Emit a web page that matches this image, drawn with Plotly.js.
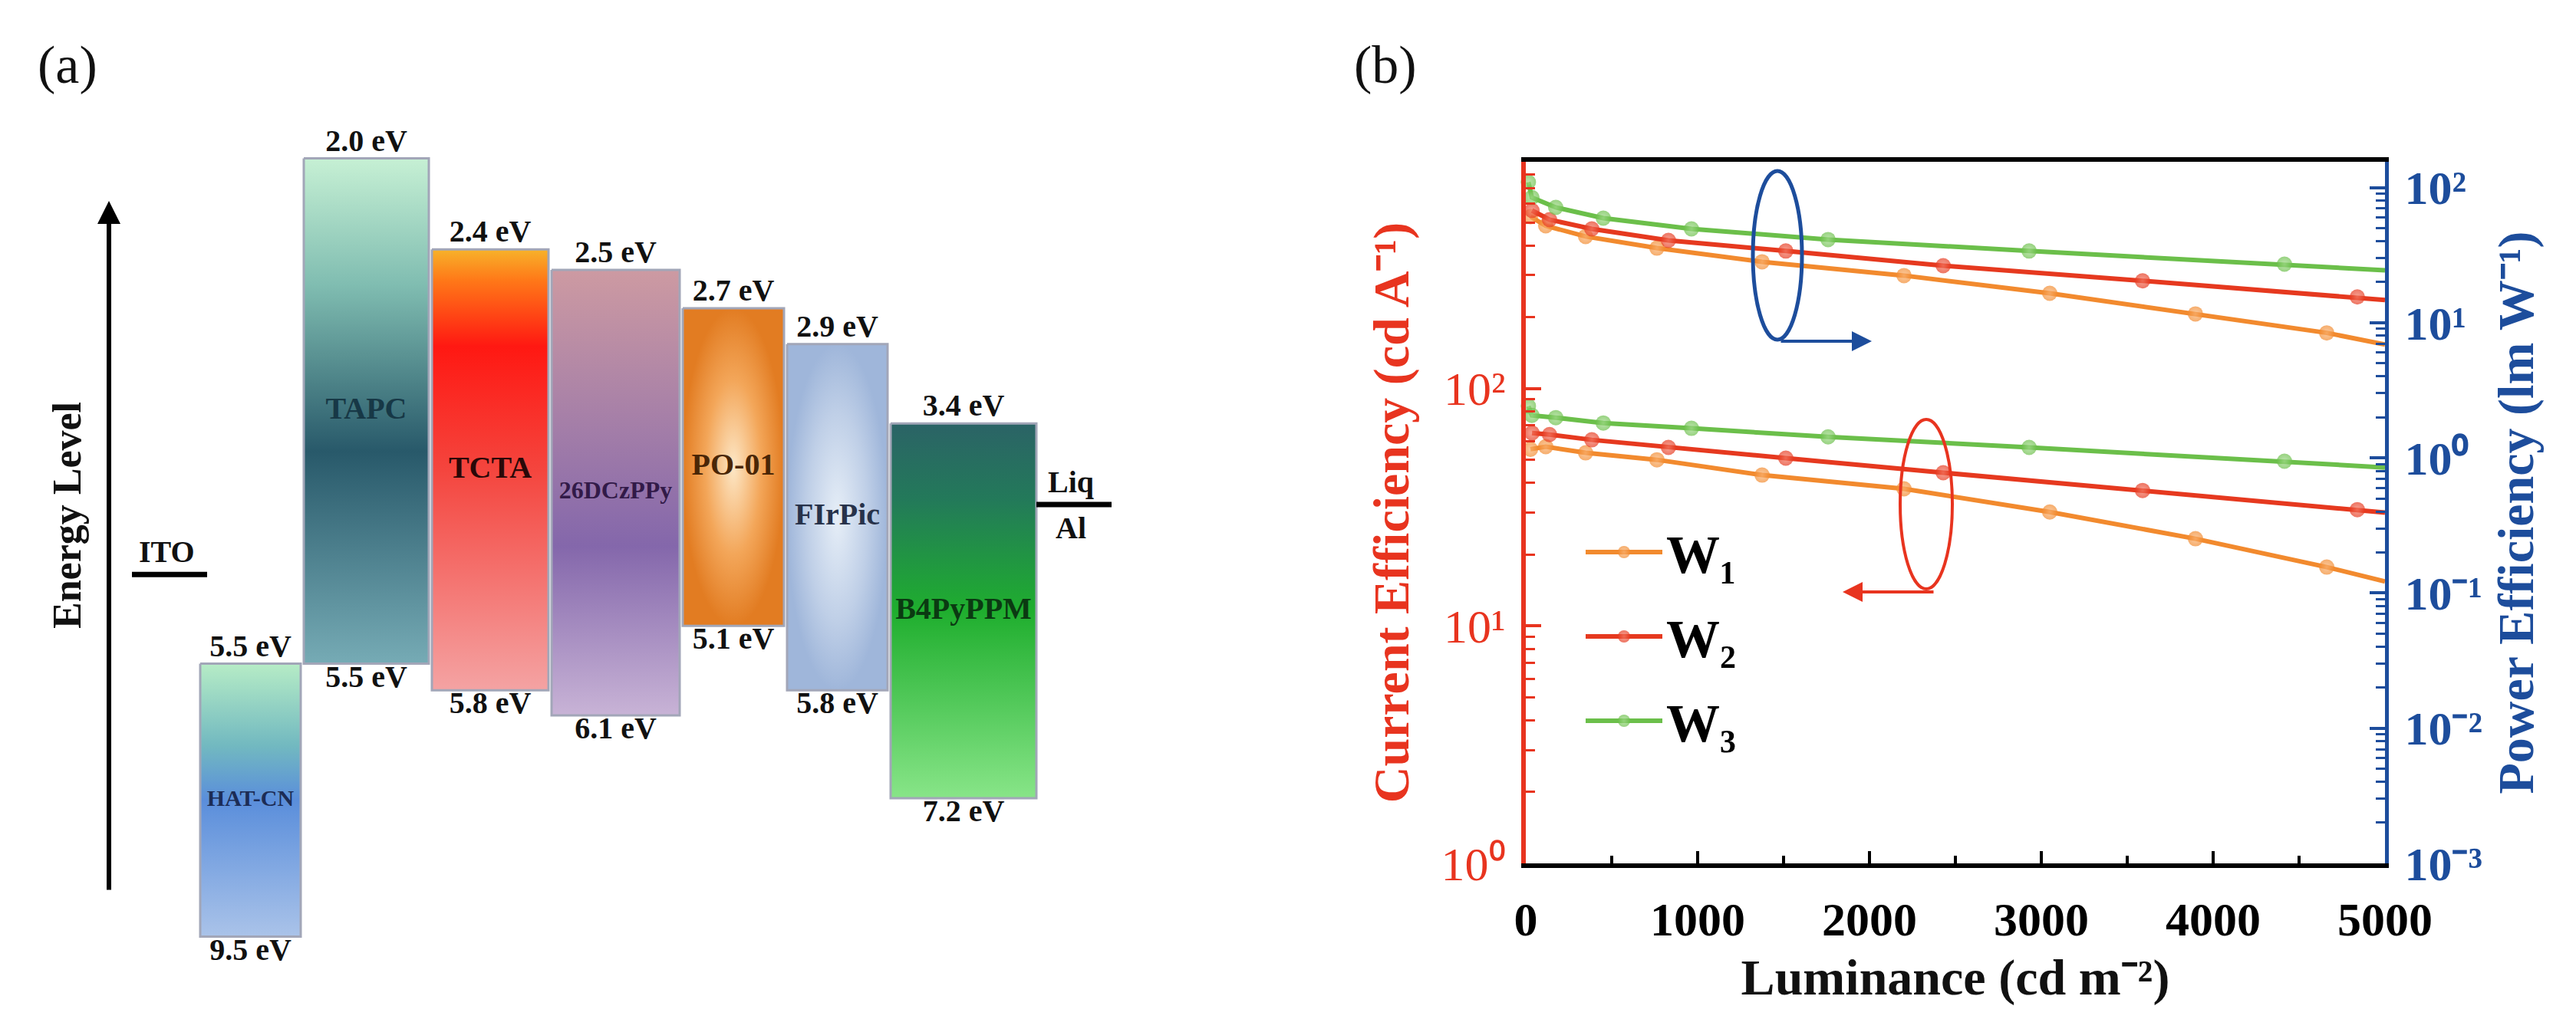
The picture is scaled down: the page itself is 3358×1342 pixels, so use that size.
<!DOCTYPE html>
<html><head><meta charset="utf-8">
<script src="https://cdn.plot.ly/plotly-3.0.1.min.js"></script>
<style>html,body{margin:0;padding:0;background:#fff}</style>
</head><body><div id="chart" style="width:3358px;height:1342px"></div>
<script>
// ---------- Panel (a): energy-level diagram data ----------
const layers = ['HAT-CN', 'TAPC', 'TCTA', '26DCzPPy', 'PO-01', 'FIrPic', 'B4PyPPM'];
const lumo = [5.5, 2.0, 2.4, 2.5, 2.7, 2.9, 3.4];   // upper level label (eV)
const homo = [9.5, 5.5, 5.8, 6.1, 5.1, 5.8, 7.2];   // lower level label (eV)
const electrodeNames = ['ITO', 'Liq/Al'];
const electrodeLevels = [4.6, 4.0];                // schematic position (estimated, eV)

// ---------- Panel (b): efficiency vs luminance data ----------
const seriesNames = ['W₁', 'W₂', 'W₃'];
const lumW1 = [27, 116, 348, 763, 1375, 2201, 3049, 3897, 4661, 5000];
const ceW1  = [55.5, 56.9, 53.6, 50.1, 43.2, 37.8, 30.2, 23.3, 17.7, 15.4];
const peW1  = [60.9, 52.1, 43.4, 35.6, 28.2, 22.3, 16.5, 11.6, 8.4, 6.9];
const lumW2 = [36, 138, 384, 830, 1513, 2429, 3589, 4839, 5000];
const ceW2  = [65.0, 64.0, 60.8, 56.5, 50.9, 44.2, 37.2, 30.9, 30.0];
const peW2  = [67.6, 57.8, 49.4, 40.6, 33.9, 26.4, 20.4, 15.5, 14.7];
const lumW3 = [15, 35, 174, 451, 964, 1759, 2929, 4415, 5000];
const ceW3  = [84.3, 77.1, 75.4, 71.6, 68.0, 62.6, 56.5, 49.4, 46.5];
const peW3  = [109.6, 84.4, 71.2, 59.3, 49.4, 41.2, 33.9, 27.1, 24.4];
const ceTickVals = [1, 10, 100];
const ceTickText = ['10⁰', '10¹', '10²'];
const peTickVals = [0.001, 0.01, 0.1, 1, 10, 100];
const peTickText = ['10⁻³', '10⁻²', '10⁻¹', '10⁰', '10¹', '10²'];

// ---------- styles / layout constants ----------
const W = 3358, H = 1342;
const SERIF = 'Liberation Serif, Times New Roman, serif';
const diagram = { startX: 261, gap: 4, widths: [131, 163, 152, 167, 132, 131, 190], elecLen: 98 };
// vertical colour stops are written top -> bottom
const boxStyles = [
  { type: 'vertical', cs: [[0, '#b6ecc6'], [0.3, '#72b9c0'], [0.5, '#5a8edb'], [1, '#aac3e9']], txt: '#1c2c55', size: 30 },
  { type: 'vertical', cs: [[0, '#c6f0d4'], [0.25, '#80bdb1'], [0.58, '#28596a'], [1, '#76abb5']], txt: '#173846', size: 40 },
  { type: 'vertical', cs: [[0, '#f7b22a'], [0.07, '#ff7818'], [0.22, '#ff1812'], [0.5, '#f4453e'], [1, '#f4a3a3']], txt: '#2a0808', size: 40 },
  { type: 'vertical', cs: [[0, '#cd9aa2'], [0.35, '#a47ea8'], [0.62, '#8467ab'], [1, '#c8b3d6']], txt: '#321a48', size: 32 },
  { type: 'radial', cs: [[0, '#fde7c6'], [0.55, '#f3a659'], [1, '#e27c22']], txt: '#4a2606', size: 40 },
  { type: 'radial', cs: [[0, '#e6eef7'], [0.6, '#bfcfe7'], [1, '#9fb6da']], txt: '#27324a', size: 40 },
  { type: 'vertical', cs: [[0, '#2b6366'], [0.2, '#23795a'], [0.5, '#1fae2e'], [1, '#88e588']], txt: '#0b3a12', size: 40 }
];
const seriesColors = ['#f28a2e', '#e6391f', '#6bbf4a'];
const markerHi = ['#f9b477', '#f27d68', '#a4db8e'];
const RED = '#e8341f', BLUE = '#1d4d9c';
const LABEL_FONT = { family: SERIF, weight: 'bold', size: 40, color: '#111' };

const traces = [];
const annotations = [];

// ---- panel (a) boxes ----
let cur = diagram.startX;
const xEdges = diagram.widths.map(w => { const e = [cur, cur + w]; cur += w + diagram.gap; return e; });
const xCent = xEdges.map(e => (e[0] + e[1]) / 2);
layers.forEach((name, i) => {
  const [x0, x1] = xEdges[i];
  const st = boxStyles[i];
  const cs = st.type === 'vertical' ? st.cs.map(([p, c]) => [1 - p, c]).reverse() : st.cs;
  traces.push({
    x: [x0, x1, x1, x0, x0], y: [lumo[i], lumo[i], homo[i], homo[i], lumo[i]],
    xaxis: 'x2', yaxis: 'y3', mode: 'lines', fill: 'toself',
    fillgradient: { type: st.type, colorscale: cs },
    line: { color: '#a2a6b8', width: 3 }, showlegend: false, hoverinfo: 'skip'
  });
});
// layer names
traces.push({
  x: xCent, y: layers.map((_, i) => Math.sqrt(lumo[i] * homo[i])), text: layers,
  xaxis: 'x2', yaxis: 'y3', mode: 'text', textposition: 'middle center',
  textfont: { family: SERIF, weight: 'bold', size: boxStyles.map(s => s.size), color: boxStyles.map(s => s.txt) },
  showlegend: false, hoverinfo: 'skip'
});
// level labels
traces.push({
  x: xCent, y: lumo, text: lumo.map(v => v.toFixed(1) + ' eV'),
  xaxis: 'x2', yaxis: 'y3', mode: 'text', textposition: 'top center',
  textfont: LABEL_FONT, showlegend: false, hoverinfo: 'skip'
});
traces.push({
  x: xCent, y: homo, text: homo.map(v => v.toFixed(1) + ' eV'),
  xaxis: 'x2', yaxis: 'y3', mode: 'text', textposition: 'bottom center',
  textfont: LABEL_FONT, showlegend: false, hoverinfo: 'skip'
});
// electrodes
const elecX = [
  [diagram.startX - diagram.elecLen + 9, diagram.startX + 9],
  [xEdges[xEdges.length - 1][1], xEdges[xEdges.length - 1][1] + diagram.elecLen]
];
electrodeNames.forEach((name, i) => {
  traces.push({
    x: elecX[i], y: [electrodeLevels[i], electrodeLevels[i]], xaxis: 'x2', yaxis: 'y3',
    mode: 'lines', line: { color: '#000', width: 7 }, showlegend: false, hoverinfo: 'skip'
  });
  const parts = name.split('/');
  const xc = (elecX[i][0] + elecX[i][1]) / 2 - 4;
  annotations.push({ text: parts[0], xref: 'x2', yref: 'y3', x: xc, y: Math.log10(electrodeLevels[i]),
    yshift: 30, showarrow: false, font: LABEL_FONT });
  if (parts[1]) annotations.push({ text: parts[1], xref: 'x2', yref: 'y3', x: xc, y: Math.log10(electrodeLevels[i]),
    yshift: -30, showarrow: false, font: LABEL_FONT });
});

// ---- panel (b) series ----
const lums = [lumW1, lumW2, lumW3], ces = [ceW1, ceW2, ceW3], pes = [peW1, peW2, peW3];
[0, 1, 2].forEach(i => {
  // last point = where the curve meets the right axis (no marker there)
  const sizes = lums[i].map((v, k) => k === lums[i].length - 1 ? 0 : 20);
  const common = {
    x: lums[i], mode: 'lines+markers', xaxis: 'x', cliponaxis: false,
    line: { color: seriesColors[i], width: 6 },
    marker: { size: sizes, color: seriesColors[i], gradient: { type: 'radial', color: markerHi[i] }, line: { width: 0 } }
  };
  traces.push(Object.assign({}, common, { y: ces[i], yaxis: 'y', name: seriesNames[i], showlegend: true, legendgroup: 'g' + i }));
  traces.push(Object.assign({}, common, { y: pes[i], yaxis: 'y2', name: seriesNames[i], showlegend: false, legendgroup: 'g' + i }));
});

function minorLog(d0, d1) {
  const out = [];
  for (let d = d0; d < d1; d++) for (let k = 2; k <= 9; k++) out.push(k * Math.pow(10, d));
  return out;
}
const px2x = p => p / W, py2y = p => (H - p) / H;

annotations.push(
  { text: '(a)', xref: 'paper', yref: 'paper', x: px2x(88), y: py2y(84), xanchor: 'center', yanchor: 'middle', showarrow: false, font: { family: SERIF, size: 70, color: '#111' } },
  { text: '(b)', xref: 'paper', yref: 'paper', x: px2x(1806), y: py2y(84), xanchor: 'center', yanchor: 'middle', showarrow: false, font: { family: SERIF, size: 70, color: '#111' } },
  { text: 'Energy Level', xref: 'paper', yref: 'paper', x: px2x(88), y: py2y(672), xanchor: 'center', yanchor: 'middle', textangle: -90, showarrow: false, font: { family: SERIF, size: 52, color: '#111', weight: 'bold' } },
  { text: '', xref: 'paper', yref: 'paper', x: px2x(142), y: py2y(262), ax: 0, ay: 900, showarrow: true, arrowhead: 2, arrowsize: 1, arrowwidth: 6, arrowcolor: '#000' },
  { text: '', xref: 'paper', yref: 'paper', x: px2x(2440), y: py2y(445), ax: -120, ay: 0, showarrow: true, arrowhead: 2, arrowsize: 1.3, arrowwidth: 4, arrowcolor: BLUE },
  { text: '', xref: 'paper', yref: 'paper', x: px2x(2402), y: py2y(772), ax: 120, ay: 0, showarrow: true, arrowhead: 2, arrowsize: 1.3, arrowwidth: 4, arrowcolor: RED }
);

const layout = {
  width: W, height: H, margin: { l: 0, r: 0, t: 0, b: 0 },
  paper_bgcolor: '#ffffff', plot_bgcolor: 'rgba(0,0,0,0)', showlegend: true,
  font: { family: SERIF, color: '#000' },
  xaxis: {
    domain: [px2x(1989), px2x(3109)], range: [0, 5000], anchor: 'y',
    showline: true, linecolor: '#000', linewidth: 6, mirror: true,
    ticks: 'inside', ticklen: 16, tickwidth: 4, tickcolor: '#000', dtick: 1000, tick0: 0,
    minor: { ticks: 'inside', dtick: 500, ticklen: 10, tickwidth: 4, tickcolor: '#000' },
    tickfont: { family: SERIF, size: 62, color: '#000', weight: 'bold' }, ticklabelstandoff: 14,
    showgrid: false, zeroline: false,
    title: { text: 'Luminance (cd m⁻²)', font: { family: SERIF, size: 66, color: '#111', weight: 'bold' }, standoff: 20 }
  },
  yaxis: {
    domain: [py2y(1126), py2y(211)], type: 'log', range: [0, 2.955], anchor: 'x',
    showline: true, linecolor: RED, linewidth: 6,
    tickmode: 'array', tickvals: ceTickVals, ticktext: ceTickText,
    ticks: 'inside', ticklen: 20, tickwidth: 4, tickcolor: RED,
    minor: { ticks: 'inside', tickvals: minorLog(0, 3), ticklen: 12, tickwidth: 3, tickcolor: RED },
    tickfont: { family: SERIF, size: 62, color: RED }, ticklabelstandoff: 8,
    showgrid: false, zeroline: false,
    title: { text: 'Current Efficiency (cd A⁻¹)', font: { family: SERIF, size: 66, color: RED, weight: 'bold' }, standoff: 22 }
  },
  yaxis2: {
    overlaying: 'y', side: 'right', anchor: 'x', type: 'log', range: [-3, 2.19],
    showline: true, linecolor: BLUE, linewidth: 5,
    tickmode: 'array', tickvals: peTickVals, ticktext: peTickText,
    ticks: 'inside', ticklen: 20, tickwidth: 4, tickcolor: BLUE,
    minor: { ticks: 'inside', tickvals: minorLog(-3, 3), ticklen: 12, tickwidth: 3, tickcolor: BLUE },
    tickfont: { family: SERIF, size: 62, color: BLUE, weight: 'bold' }, ticklabelstandoff: 8,
    showgrid: false, zeroline: false,
    title: { text: 'Power Efficiency (lm W⁻¹)', font: { family: SERIF, size: 66, color: BLUE, weight: 'bold' }, standoff: 22 }
  },
  xaxis2: { domain: [0, px2x(1500)], range: [0, 1500], anchor: 'y3', visible: false, fixedrange: true },
  yaxis3: { domain: [0, 1], type: 'log', range: [1.058, 0.1633], anchor: 'x2', visible: false, fixedrange: true },
  legend: {
    x: px2x(2062), y: py2y(668), xanchor: 'left', yanchor: 'top', bgcolor: 'rgba(0,0,0,0)',
    font: { family: SERIF, size: 70, color: '#000', weight: 'bold' }, itemwidth: 100, tracegroupgap: 16
  },
  shapes: [
    { type: 'circle', xref: 'paper', yref: 'paper', x0: px2x(2285), x1: px2x(2349), y0: py2y(443), y1: py2y(223), line: { color: BLUE, width: 5 } },
    { type: 'circle', xref: 'paper', yref: 'paper', x0: px2x(2477), x1: px2x(2545), y0: py2y(768), y1: py2y(547), line: { color: RED, width: 4 } }
  ],
  annotations: annotations
};

Plotly.newPlot('chart', traces, layout, { staticPlot: true, displayModeBar: false });
</script>
</body></html>
